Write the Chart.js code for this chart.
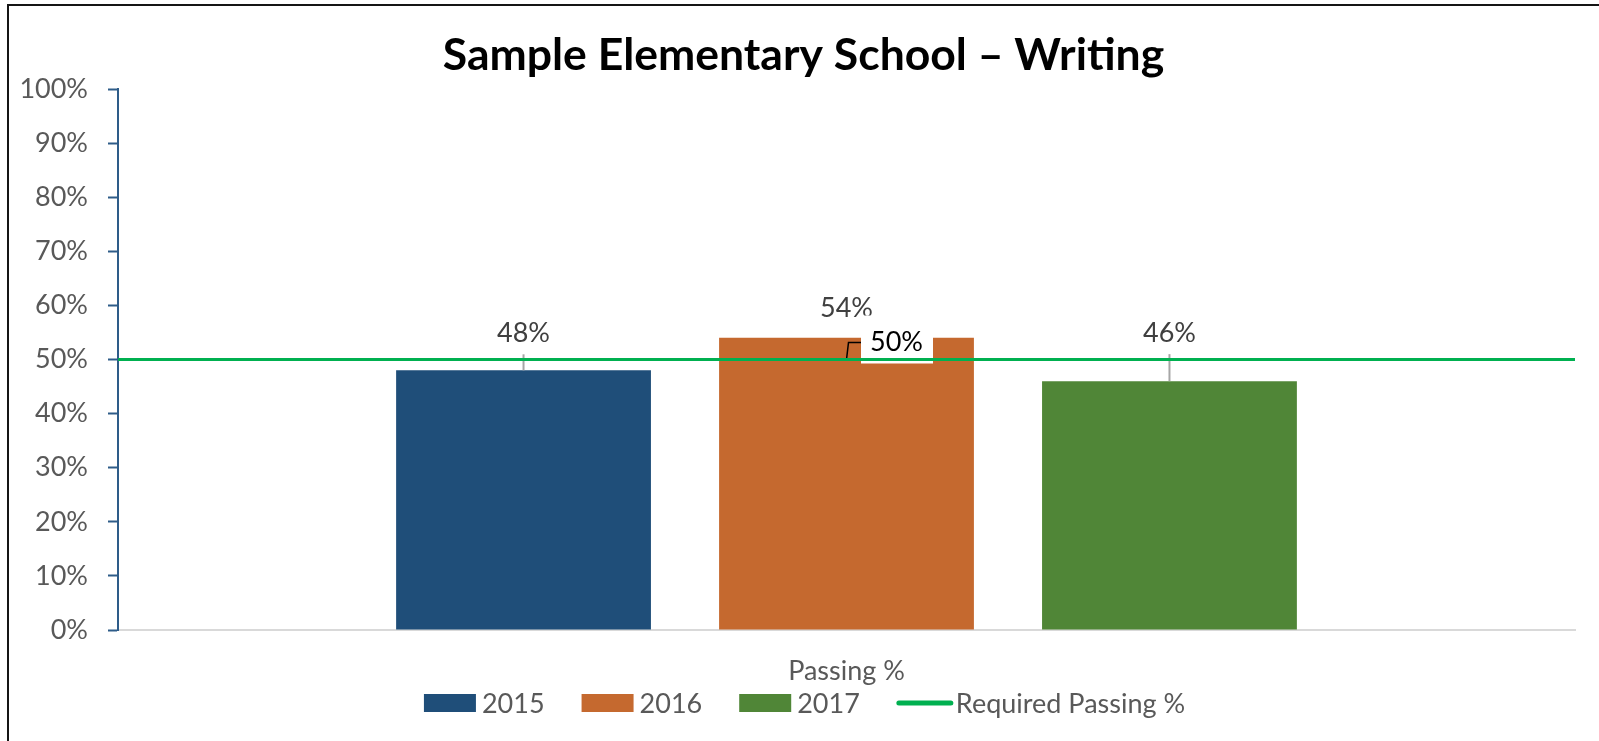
<!DOCTYPE html>
<html>
<head>
<meta charset="utf-8">
<title>Sample Elementary School – Writing</title>
<style>
  html, body { margin: 0; padding: 0; background: #fff; overflow: hidden; }
  #wrap { position: relative; width: 1599px; height: 741px; }
</style>
</head>
<body>
<div id="wrap"><canvas id="schoolChart"></canvas></div>
<script src="https://cdn.jsdelivr.net/npm/chart.js@4.4.1/dist/chart.umd.min.js"></script>
<script>
// data
const categories = ['Passing %'];
const years = ['2015', '2016', '2017'];
const passing = [48, 54, 46];
const requiredLabel = 'Required Passing %';
const requiredPassing = [50, 50];
const chartTitle = 'Sample Elementary School – Writing';

const barColors = ['#1F4E79', '#C5692F', '#508637'];
const lineColor = '#00B050';
const FONT = 'Lato, "Open Sans", sans-serif';

// how far above the bar top each value label sits (px) and whether it gets a leader line
const labelLift = [28, 21, 39];
const leaderOn = [true, false, true];

const framePlugin = {
    id: 'frame',
    beforeDraw(chart) {
        const c = chart.ctx;
        c.save();
        c.fillStyle = '#fff';
        c.fillRect(0, 0, chart.width, chart.height);
        c.strokeStyle = '#151515';
        c.lineWidth = 2;
        c.beginPath();
        c.moveTo(8, chart.height);
        c.lineTo(8, 5);
        c.lineTo(chart.width, 5);
        c.stroke();

        // title
        c.fillStyle = '#000';
        c.font = `bold 44.5px ${FONT}`;
        c.textAlign = 'center';
        c.textBaseline = 'alphabetic';
        c.fillText(chartTitle, chart.width / 2 + 4, 70);
        c.restore();
    }
};

const valueLabels = {
    id: 'valueLabels',
    beforeDatasetDraw(chart, args) {
        if (args.index !== years.length) return;
        const c = chart.ctx;
        c.save();
        c.font = `27px ${FONT}`;
        c.textAlign = 'center';
        c.textBaseline = 'alphabetic';

        years.forEach((y, i) => {
            const bar = chart.getDatasetMeta(i).data[0];
            const base = bar.y - labelLift[i];
            if (leaderOn[i]) {
                c.strokeStyle = '#A6A6A6';
                c.lineWidth = 2;
                c.beginPath();
                c.moveTo(bar.x, base + 12);
                c.lineTo(bar.x, bar.y);
                c.stroke();
            }
            c.fillStyle = '#404040';
            c.fillText(passing[i] + '%', bar.x, base);
        });

        // label of the required line, in a white box with a bent leader
        const yLine = chart.scales.y.getPixelForValue(requiredPassing[0]);
        const cx = chart.scales.x.getPixelForValue(0);
        const boxLeft = cx + 14.5;
        c.fillStyle = '#fff';
        c.fillRect(boxLeft, yLine - 44, 72, 48);
        c.strokeStyle = '#000';
        c.lineWidth = 1.5;
        c.beginPath();
        c.moveTo(cx, yLine);
        c.lineTo(cx + 2, yLine - 17);
        c.lineTo(boxLeft, yLine - 17);
        c.stroke();
        c.fillStyle = '#000';
        c.textAlign = 'left';
        c.fillText(requiredPassing[0] + '%', boxLeft + 9, yLine - 9);
        c.restore();
    }
};

const bottomLegend = {
    id: 'bottomLegend',
    afterDraw(chart) {
        const c = chart.ctx;
        c.save();
        c.font = `27px ${FONT}`;
        c.textBaseline = 'alphabetic';
        c.textAlign = 'left';

        const items = chart.data.datasets.map(ds => ({
            text: ds.label,
            isLine: ds.type === 'line',
            color: ds.type === 'line' ? ds.borderColor : ds.backgroundColor
        }));
        const itemWidths = items.map(it => (it.isLine ? 56 + 3 : 52 + 6) + c.measureText(it.text).width);
        const gap = 37;
        const total = itemWidths.reduce((a, b) => a + b, 0) + gap * (items.length - 1);
        let x = chart.width / 2 + 5 - total / 2;
        const baseline = 713;

        items.forEach((it, i) => {
            if (it.isLine) {
                c.strokeStyle = it.color;
                c.lineWidth = 5;
                c.lineCap = 'round';
                c.beginPath();
                c.moveTo(x + 2, 703);
                c.lineTo(x + 54, 703);
                c.stroke();
                c.fillStyle = '#595959';
                c.fillText(it.text, x + 59, baseline);
            } else {
                c.fillStyle = it.color;
                c.fillRect(x, 694, 52, 18);
                c.fillStyle = '#595959';
                c.fillText(it.text, x + 58, baseline);
            }
            x += itemWidths[i] + gap;
        });
        c.restore();
    }
};

const ctx = document.getElementById('schoolChart').getContext('2d');

// bars sit on the position of their category (index 0), grouped side by side
const barSets = years.map((y, i) => ({
    label: y,
    data: categories.map((cat, k) => ({ x: k, y: passing[i] })),
    backgroundColor: barColors[i],
    categoryPercentage: 0.665,
    barPercentage: 0.789,
    order: 1
}));

// required line runs across the whole plot, edge to edge
const requiredSet = {
    type: 'line',
    label: requiredLabel,
    data: requiredPassing.map((v, i) => ({ x: i === 0 ? -1 : 1, y: v })),
    borderColor: lineColor,
    borderWidth: 3,
    pointRadius: 0,
    fill: false,
    clip: false,
    order: 0
};

const schoolChart = new Chart(ctx, {
    type: 'bar',
    data: {
        datasets: [...barSets, requiredSet]
    },
    options: {
        responsive: true,
        maintainAspectRatio: false,
        animation: false,
        layout: {
            padding: { top: 89, right: 24, left: 0, bottom: 0 }
        },
        plugins: {
            legend: { display: false },
            title: { display: false },
            tooltip: { enabled: false }
        },
        scales: {
            x: {
                type: 'linear',
                min: -1,
                max: 1,
                offset: false,
                grid: { display: false, drawTicks: false },
                border: { display: true, color: '#D9D9D9', width: 2 },
                afterBuildTicks: s => { s.ticks = categories.map((cat, k) => ({ value: k })); },
                ticks: {
                    callback: v => categories[v],
                    color: '#595959',
                    font: { family: FONT, size: 27 },
                    padding: 25,
                    maxRotation: 0
                },
                afterFit: s => { s.height = 111; }
            },
            y: {
                min: 0,
                max: 100,
                ticks: {
                    stepSize: 10,
                    callback: v => v + '%',
                    color: '#595959',
                    font: { family: FONT, size: 27 },
                    padding: 20
                },
                grid: {
                    drawOnChartArea: false,
                    tickLength: 10,
                    tickColor: '#2E5C89',
                    tickWidth: 2
                },
                border: { color: '#2E5C89', width: 2 },
                afterFit: s => { s.width = 118; }
            }
        }
    },
    plugins: [framePlugin, valueLabels, bottomLegend]
});
</script>
</body>
</html>
